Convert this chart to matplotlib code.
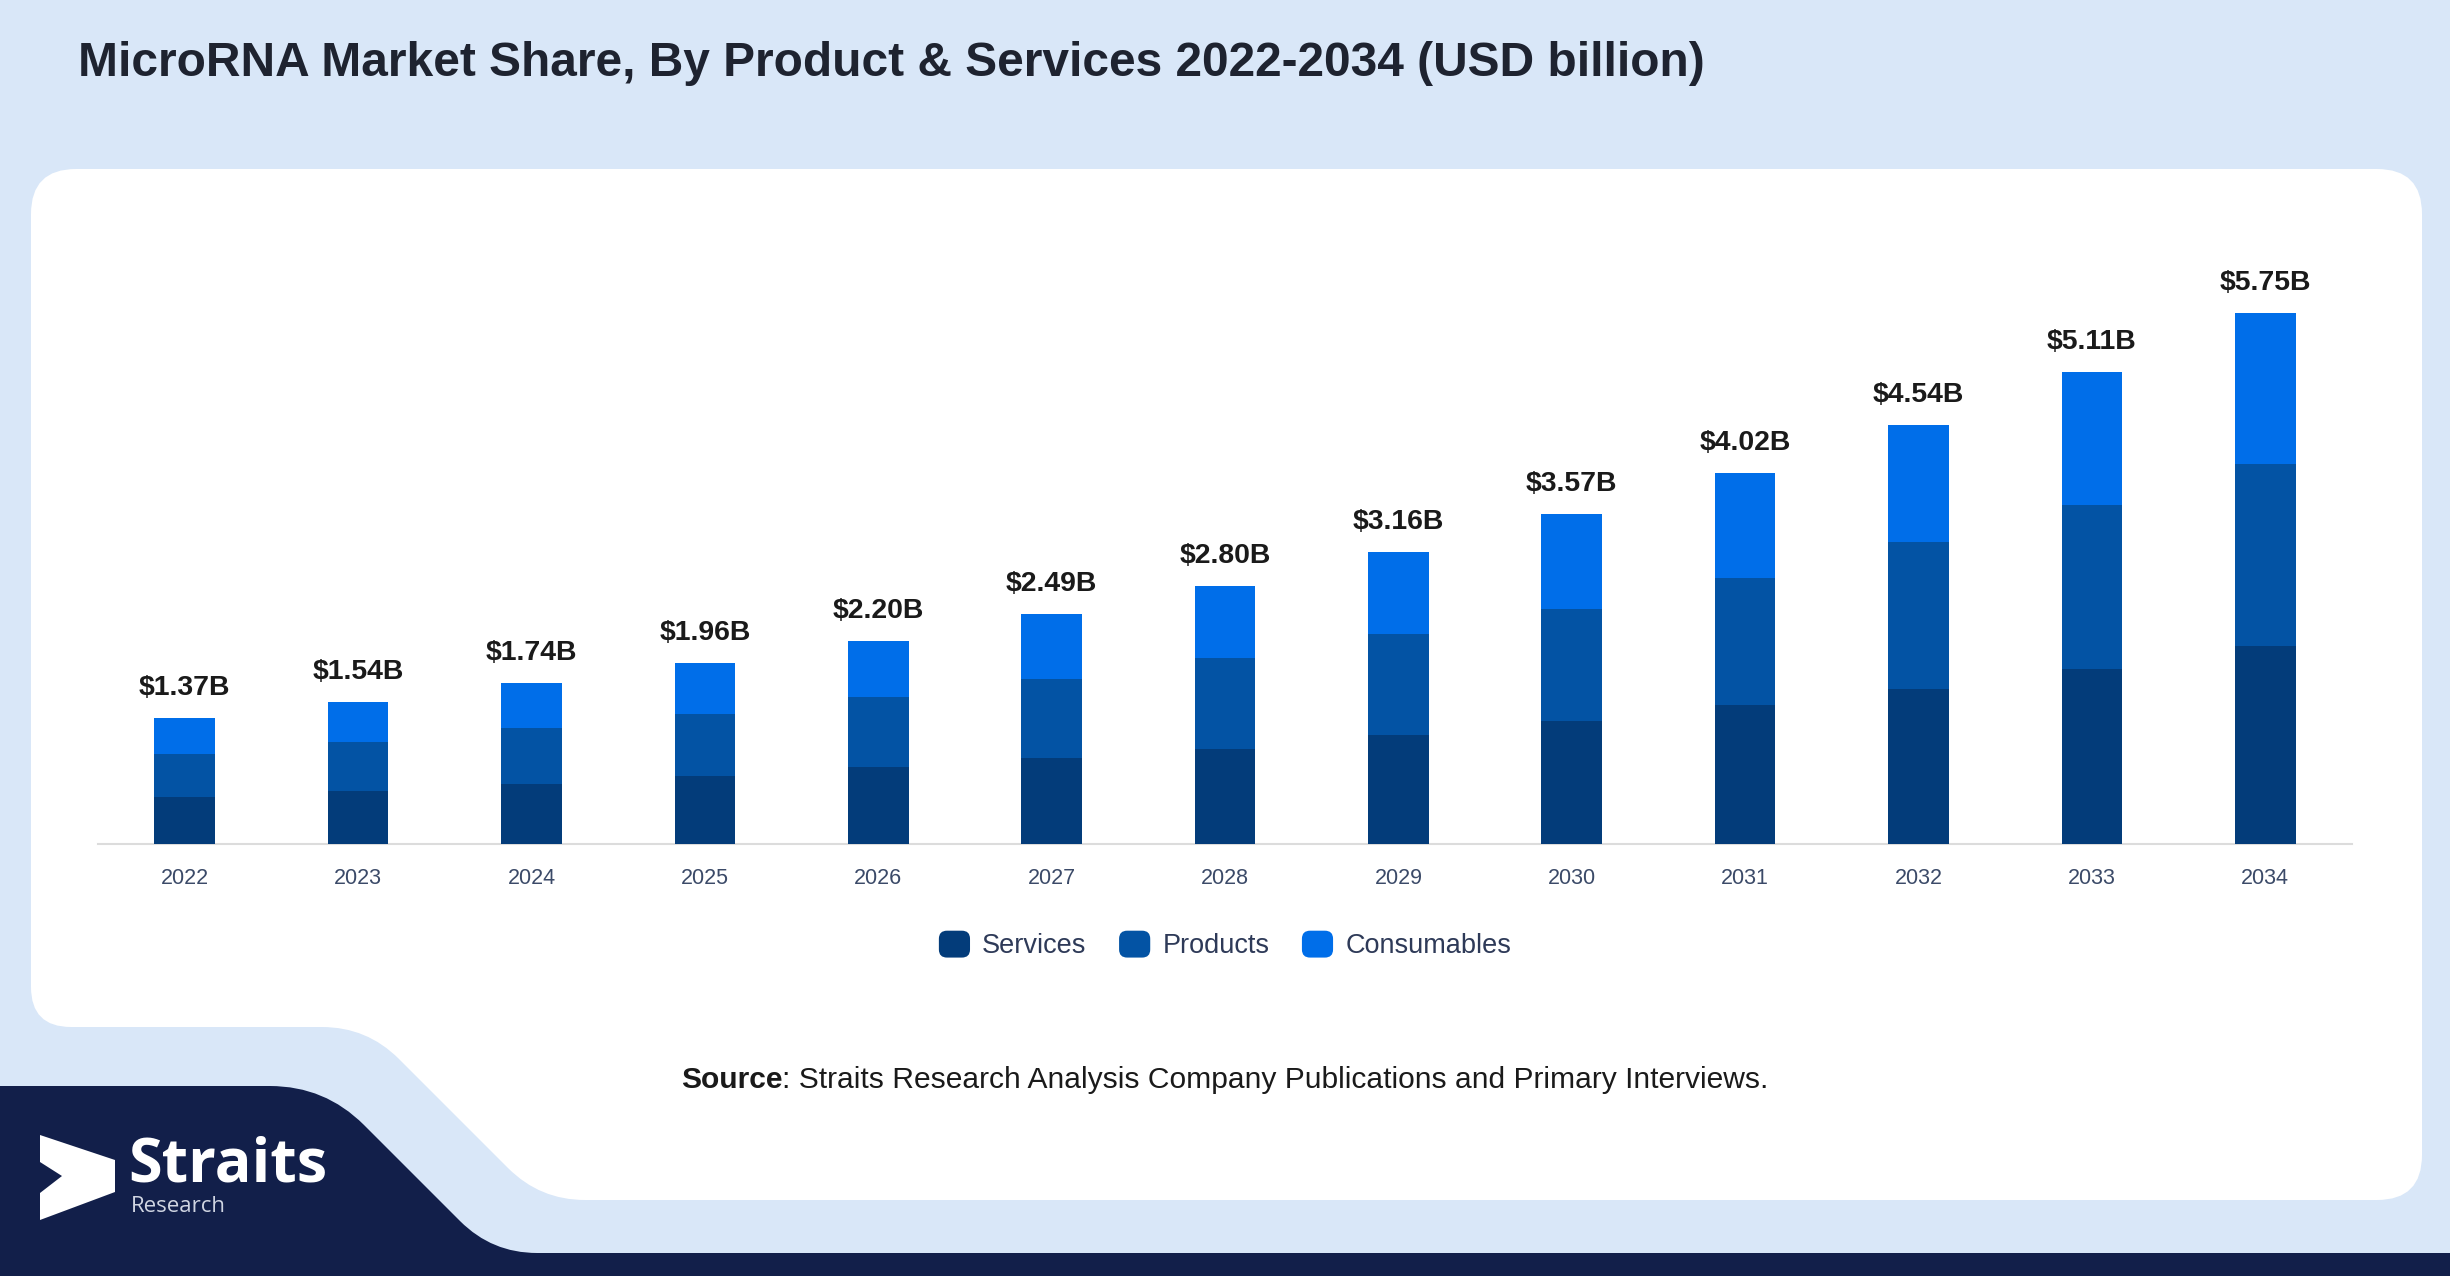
import numpy as np
import matplotlib
matplotlib.use("Agg")
import matplotlib.pyplot as plt
from matplotlib.path import Path
from matplotlib.patches import PathPatch, FancyBboxPatch, Patch, Polygon
from matplotlib.legend_handler import HandlerBase

plt.rcParams['font.family'] = ['Liberation Sans', 'DejaVu Sans']

# ---------------- data ----------------
years = ['2022', '2023', '2024', '2025', '2026', '2027', '2028',
         '2029', '2030', '2031', '2032', '2033', '2034']
services = [0.51, 0.57, 0.65, 0.74, 0.83, 0.93, 1.03, 1.18, 1.33, 1.51, 1.68, 1.90, 2.14]
products = [0.47, 0.53, 0.61, 0.67, 0.76, 0.86, 0.98, 1.09, 1.22, 1.37, 1.59, 1.77, 1.98]
consumables = [0.39, 0.44, 0.48, 0.55, 0.61, 0.70, 0.79, 0.89, 1.02, 1.14, 1.27, 1.44, 1.63]
totals = [1.37, 1.54, 1.74, 1.96, 2.20, 2.49, 2.80, 3.16, 3.57, 4.02, 4.54, 5.11, 5.75]
series_names = ['Services', 'Products', 'Consumables']

title = "MicroRNA Market Share, By Product & Services 2022-2034 (USD billion)"
source_bold = "Source"
source_rest = ": Straits Research Analysis Company Publications and Primary Interviews."

# ---------------- styles ----------------
W, H = 2450, 1276
BG = '#d9e7f8'
NAVY = '#121f4a'
COLORS = ['#033c7a', '#0353a4', '#006ee9']


def rounded_path(pts, radii):
    n = len(pts)
    verts, codes = [], []
    for i in range(n):
        p0 = np.array(pts[i - 1], float)
        p1 = np.array(pts[i], float)
        p2 = np.array(pts[(i + 1) % n], float)
        r = radii[i]
        l1 = np.linalg.norm(p0 - p1)
        l2 = np.linalg.norm(p2 - p1)
        if r <= 0:
            a = b = p1
        else:
            a = p1 + (p0 - p1) / l1 * min(r, l1 / 2)
            b = p1 + (p2 - p1) / l2 * min(r, l2 / 2)
        verts.append(a)
        codes.append(Path.MOVETO if i == 0 else Path.LINETO)
        verts += [p1, b]
        codes += [Path.CURVE3, Path.CURVE3]
    verts.append(verts[0])
    codes.append(Path.CLOSEPOLY)
    return Path(verts, codes)


fig = plt.figure(figsize=(W / 100, H / 100), dpi=100, facecolor=BG)

# background decoration axes in pixel coordinates
bg = fig.add_axes([0, 0, 1, 1], zorder=0)
bg.set_xlim(0, W)
bg.set_ylim(H, 0)
bg.axis('off')

white_pts = [(31, 169), (2422, 169), (2422, 1200), (540, 1200), (367, 1027), (31, 1027)]
white_r = [45, 45, 45, 45, 45, 40]
bg.add_patch(PathPatch(rounded_path(white_pts, white_r), facecolor='white', edgecolor='none'))

navy_pts = [(0, 1086), (325, 1086), (492, 1253), (W, 1253), (W, H), (0, H)]
navy_r = [0, 55, 45, 0, 0, 0]
bg.add_patch(PathPatch(rounded_path(navy_pts, navy_r), facecolor=NAVY, edgecolor='none'))

# logo
chev = [(40, 1135), (115, 1160), (115, 1192), (40, 1220), (40, 1193), (62, 1176), (40, 1162)]
bg.add_patch(Polygon(chev, closed=True, facecolor='white', edgecolor='none'))
bg.text(128, 1166, 'Straits', fontsize=44, fontweight='bold', color='white',
        family=['Open Sans', 'DejaVu Sans'], ha='left', va='center')
bg.text(131, 1207, 'Research', fontsize=16, color='#d0d5e2',
        family=['Open Sans', 'DejaVu Sans'], ha='left', va='center')

# title
fig.text(78 / W, 1 - 64 / H, title, ha='left', va='center', fontsize=34.5,
         fontweight='bold', color='#1e2330')

# ---------------- chart ----------------
px_per_unit = 92.3
ymax = 6.5
ax = fig.add_axes([98 / W, (H - 844) / H, 2254 / W, ymax * px_per_unit / H], zorder=2)
ax.set_facecolor('none')
x = np.arange(len(years))
bw = 0.35
bottom = np.zeros(len(years))
for vals, col, name in zip([services, products, consumables], COLORS, series_names):
    ax.bar(x, vals, bw, bottom=bottom, color=col, edgecolor='none', label=name, zorder=3)
    bottom = bottom + np.array(vals)

for xi, t in zip(x, totals):
    ax.annotate(f'${t:.2f}B', xy=(xi, t), xytext=(0, 30), textcoords='offset pixels',
                ha='center', va='center', fontsize=20.4, fontweight='bold', color='#1a1a1a')

ax.set_xlim(-0.5, len(years) - 0.5)
ax.set_ylim(0, ymax)
ax.set_xticks(x, years)
ax.set_yticks([])
ax.tick_params(axis='x', length=0, pad=17, labelsize=15.5, labelcolor='#3b4a68')
for s in ['top', 'left', 'right']:
    ax.spines[s].set_visible(False)
ax.spines['bottom'].set_color('#dcdcdc')
ax.spines['bottom'].set_linewidth(1.5)


class RoundHandler(HandlerBase):
    def create_artists(self, legend, orig_handle, xdescent, ydescent, width, height,
                       fontsize, trans):
        p = FancyBboxPatch((-xdescent, -ydescent), width, height,
                           boxstyle=f"round,pad=0,rounding_size={height * 0.3}",
                           facecolor=orig_handle.get_facecolor(), edgecolor='none',
                           transform=trans)
        return [p]


handles = [Patch(facecolor=c, label=n) for c, n in zip(COLORS, series_names)]
fig.legend(handles=handles, labels=series_names, loc='center',
           bbox_to_anchor=(0.5, 1 - 945 / H), ncol=3, frameon=False, fontsize=19.5,
           handlelength=1.15, handleheight=1.15, handletextpad=0.45, columnspacing=1.2,
           labelcolor='#2e3a58', handler_map={Patch: RoundHandler()})

# source
t1 = fig.text(681 / W, 1 - 1080 / H, source_bold, ha='left', va='center', fontsize=21.6,
              fontweight='bold', color='#1a1a1a')
ann = plt.annotate(source_rest, xy=(1, 0), xycoords=t1, ha='left', va='bottom',
                   fontsize=21.6, color='#1a1a1a', annotation_clip=False)

fig.savefig('out.png', dpi=100, facecolor=BG)
